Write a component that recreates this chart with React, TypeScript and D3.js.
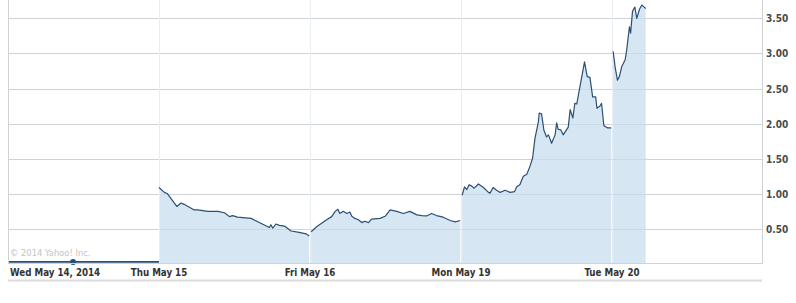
import React from "react";
import * as d3 from "d3";

const dayLabels = ["Wed May 14, 2014", "Thu May 15", "Fri May 16", "Mon May 19", "Tue May 20"];
const yTicks = [0.5, 1, 1.5, 2, 2.5, 3, 3.5];

const wedTimes = ["09:30", "16:00"];
const wedValues = [0.03, 0.03];
const wedMarkerTime = "12:18";
const wedMarkerValue = 0.03;

const thuTimes = ["09:30", "09:44", "09:52", "10:16", "10:27", "10:35", "11:01", "11:10", "11:36", "12:02", "12:19", "12:32", "12:40", "12:53", "13:28", "13:53", "14:15", "14:19", "14:24", "14:32", "14:41", "14:54", "15:11", "15:32", "15:50", "15:58"];
const thuValues = [1.09, 1.02, 1.0, 0.82, 0.87, 0.85, 0.77, 0.77, 0.75, 0.75, 0.73, 0.675, 0.69, 0.667, 0.65, 0.58, 0.52, 0.56, 0.51, 0.57, 0.55, 0.54, 0.47, 0.45, 0.43, 0.4];

const friTimes = ["09:33", "09:47", "10:00", "10:13", "10:26", "10:35", "10:42", "10:47", "10:56", "11:05", "11:13", "11:18", "11:26", "11:35", "11:44", "11:52", "12:01", "12:09", "12:31", "12:44", "12:57", "13:14", "13:31", "13:48", "14:06", "14:19", "14:31", "14:44", "14:57", "15:14", "15:32", "15:45", "15:58"];
const friValues = [0.46, 0.53, 0.58, 0.63, 0.675, 0.75, 0.78, 0.72, 0.75, 0.72, 0.74, 0.68, 0.65, 0.63, 0.59, 0.61, 0.59, 0.64, 0.65, 0.68, 0.77, 0.75, 0.72, 0.75, 0.7, 0.69, 0.685, 0.72, 0.69, 0.667, 0.62, 0.6, 0.62];

const monTimes = ["09:33", "09:39", "09:45", "09:51", "09:58", "10:04", "10:15", "10:28", "10:41", "10:45", "10:53", "11:02", "11:11", "11:24", "11:37", "11:48", "11:54", "12:02", "12:11", "12:20", "12:28", "12:35", "12:41", "12:50", "12:52", "12:58", "13:04", "13:11", "13:16", "13:24", "13:33", "13:37", "13:41", "13:48", "13:54", "14:07", "14:12", "14:19", "14:24", "14:29", "14:39", "14:49", "14:56", "15:03", "15:10", "15:18", "15:21", "15:29", "15:33", "15:39", "15:48", "15:58"];
const monValues = [0.98, 1.1, 1.06, 1.13, 1.11, 1.08, 1.14, 1.09, 1.02, 1.01, 1.09, 1.05, 1.02, 1.05, 1.02, 1.03, 1.1, 1.13, 1.25, 1.28, 1.39, 1.51, 1.79, 2.03, 2.15, 2.14, 1.91, 1.81, 1.84, 1.72, 1.84, 2.01, 1.92, 1.91, 1.84, 1.95, 2.2, 2.08, 2.29, 2.28, 2.58, 2.88, 2.67, 2.66, 2.38, 2.38, 2.22, 2.25, 2.29, 1.97, 1.94, 1.94];

const tueTimes = ["09:33", "09:38", "09:44", "09:49", "09:55", "10:04", "10:08", "10:15", "10:18", "10:23", "10:29", "10:34", "10:41", "10:47", "10:51", "10:57"];
const tueValues = [3.03, 2.81, 2.62, 2.67, 2.81, 2.91, 3.05, 3.38, 3.29, 3.6, 3.66, 3.5, 3.63, 3.69, 3.67, 3.64];

const sessions = [
  { day: 0, times: wedTimes, values: wedValues },
  { day: 1, times: thuTimes, values: thuValues },
  { day: 2, times: friTimes, values: friValues },
  { day: 3, times: monTimes, values: monValues },
  { day: 4, times: tueTimes, values: tueValues },
];

const W = 796;
const H = 303;
const left = 8;
const right = 763;
const bottom = 263.5;

const toDay = (day: number, t: string) => {
  const [h, m] = t.split(":").map(Number);
  return day + (h * 60 + m - 570) / 390;
};

export default function App() {
  const x = d3.scaleLinear().domain([0, 5]).range([left, right]);
  const y = d3.scaleLinear().domain([0, 3.75]).range([264, 0.8]);

  const line = d3
    .line<[number, number]>()
    .x((d) => x(d[0]))
    .y((d) => y(d[1]));
  const area = d3
    .area<[number, number]>()
    .x((d) => x(d[0]))
    .y0(bottom)
    .y1((d) => y(d[1]));

  const segs = sessions.map((s) =>
    s.times.map((t, i) => [toDay(s.day, t), s.values[i]] as [number, number])
  );

  const font = "'DejaVu Sans Condensed', 'DejaVu Sans', Verdana, sans-serif";

  return (
    <svg
      width={W}
      height={H}
      style={{ position: "fixed", left: 0, top: 0, background: "#fff" }}
    >
      {yTicks.map((t) => (
        <line key={"h" + t} x1={left} x2={right} y1={Math.round(y(t)) + 0.5} y2={Math.round(y(t)) + 0.5} stroke="#cfd3d6" />
      ))}
      {[1, 2, 3, 4].map((d) => (
        <line key={"v" + d} x1={Math.round(x(d)) + 0.5} x2={Math.round(x(d)) + 0.5} y1={0} y2={bottom} stroke="#cfd3d6" />
      ))}
      {segs.map((s, i) => (
        <path key={"a" + i} d={area(s) || ""} fill="#c4dbee" fillOpacity={0.7} />
      ))}
      {[1, 2, 3, 4].map((d) => (
        <line key={"s" + d} x1={Math.round(x(d)) + 0.5} x2={Math.round(x(d)) + 0.5} y1={0} y2={bottom} stroke="#e9f0f6" strokeOpacity={0.9} />
      ))}
      {segs.map((s, i) => (
        <path key={"l" + i} d={line(s) || ""} fill="none" stroke="#2d4f74" strokeWidth={i === 0 ? 1.6 : 1.2} strokeLinejoin="round" />
      ))}
      <circle cx={x(toDay(0, wedMarkerTime))} cy={y(wedMarkerValue)} r={3} fill="#1f4f86" />
      <line x1={left + 0.5} x2={left + 0.5} y1={0} y2={bottom} stroke="#cfd3d6" />
      <line x1={right - 0.5} x2={right - 0.5} y1={0} y2={bottom} stroke="#cfd3d6" />
      <line x1={left} x2={right} y1={bottom} y2={bottom} stroke="#cfd3d6" />
      <rect x={left} y={279.5} width={right - left - 1} height={2} fill="#dcdcdc" />
      <text x={10} y={256} fontFamily={font} fontSize={9.3} fill="#c4c4c4">
        © 2014 Yahoo! Inc.
      </text>
      {yTicks.map((t) => (
        <text key={"yl" + t} x={766} y={y(t) + 4} fontFamily={font} fontSize={10} fontWeight="bold" fill="#4a4a4a">
          {d3.format(".2f")(t)}
        </text>
      ))}
      {dayLabels.map((lab, i) => (
        <text
          key={"xl" + i}
          x={i === 0 ? 10 : x(i)}
          y={275.5}
          textAnchor={i === 0 ? "start" : "middle"}
          fontFamily={font}
          fontSize={9.7}
          fontWeight="bold"
          fill="#333"
        >
          {lab}
        </text>
      ))}
    </svg>
  );
}
